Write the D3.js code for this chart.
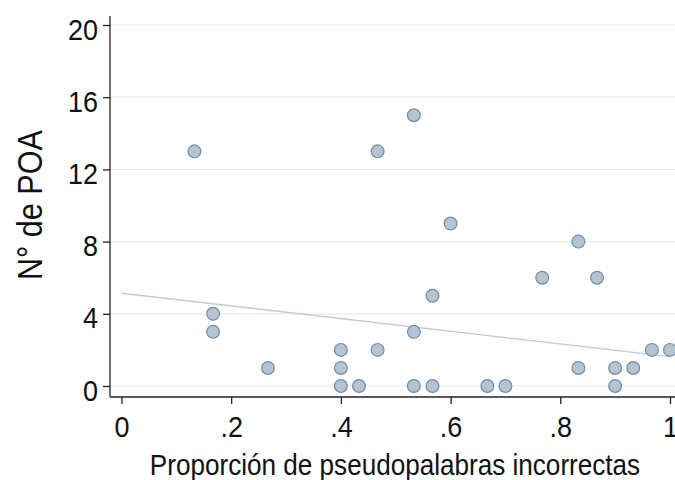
<!DOCTYPE html>
<html>
<head>
<meta charset="utf-8">
<script src="https://cdn.jsdelivr.net/npm/d3@7"></script>
<style>
  html, body { margin: 0; padding: 0; background: #fff; }
  svg { display: block; }
  text { font-family: "Liberation Sans", Arial, sans-serif; fill: #111; }
</style>
</head>
<body>
<svg id="chart" width="675" height="480"></svg>
<script>
// Proporción de pseudopalabras incorrectas (x) vs. número de POA (y)
const propIncorrect = [0.133, 0.167, 0.167, 0.267, 0.4, 0.4, 0.4, 0.433, 0.467, 0.467,
                       0.533, 0.533, 0.533, 0.567, 0.567, 0.6, 0.667, 0.7, 0.767, 0.833,
                       0.833, 0.867, 0.9, 0.9, 0.933, 0.967, 1.0];
const numPOA        = [13, 4, 3, 1, 2, 1, 0, 0, 13, 2,
                       15, 3, 0, 5, 0, 9, 0, 0, 6, 8,
                       1, 6, 1, 0, 1, 2, 2];

// Linear fit endpoints
const fitX = [0, 1];
const fitY = [5.14, 1.63];

// Axis ticks
const yTicks = [0, 4, 8, 12, 16, 20];
const xTicks = [0, 0.2, 0.4, 0.6, 0.8, 1];
const xTickLabels = ["0", ".2", ".4", ".6", ".8", "1"];

const xTitle = "Proporción de pseudopalabras incorrectas";
const yTitle = "N° de POA";

// Layout
const plotLeft = 110, plotRight = 675, plotTop = 16, plotBottom = 397;
const narrow = 0.9;   // horizontal condensing of label text

const svg = d3.select("#chart");

const x = d3.scaleLinear().domain([0, 1]).range([121.5, 670]);
const y = d3.scaleLinear().domain([0, 20]).range([386, 25]);

// Horizontal grid lines
svg.append("g")
  .selectAll("line")
  .data(yTicks)
  .join("line")
  .attr("x1", plotLeft).attr("x2", plotRight)
  .attr("y1", d => y(d)).attr("y2", d => y(d))
  .attr("stroke", "#e4eded")
  .attr("stroke-width", 1.2);

// Fitted line (under the markers)
const fitData = fitX.map((v, i) => [v, fitY[i]]);
svg.append("path")
  .datum(fitData)
  .attr("d", d3.line().x(d => x(d[0])).y(d => y(d[1])))
  .attr("fill", "none")
  .attr("stroke", "#bccbdb")
  .attr("stroke-width", 1.4);

// Scatter markers
svg.append("g")
  .selectAll("circle")
  .data(propIncorrect.map((v, i) => [v, numPOA[i]]))
  .join("circle")
  .attr("cx", d => x(d[0]))
  .attr("cy", d => y(d[1]))
  .attr("r", 6.4)
  .attr("fill", "#b6c4d1")
  .attr("stroke", "#6f8cab")
  .attr("stroke-width", 1.2);

// Y axis
const gy = svg.append("g")
  .attr("transform", `translate(${plotLeft},0)`)
  .call(d3.axisLeft(y).tickValues(yTicks).tickSize(7).tickPadding(0).tickFormat(d3.format("d")));
gy.select(".domain").remove();
gy.selectAll(".tick line").attr("stroke", "#222").attr("stroke-width", 1.3);
gy.selectAll(".tick text")
  .attr("font-size", 30)
  .attr("font-family", "Liberation Sans, Arial, sans-serif")
  .attr("text-anchor", "end")
  .attr("x", -12 / narrow)
  .attr("dy", 14)
  .attr("transform", `scale(${narrow},1)`);

// X axis
const gx = svg.append("g")
  .attr("transform", `translate(0,${plotBottom})`)
  .call(d3.axisBottom(x).tickValues(xTicks).tickSize(7).tickPadding(0)
    .tickFormat((d, i) => xTickLabels[i]));
gx.select(".domain").remove();
gx.selectAll(".tick line").attr("stroke", "#222").attr("stroke-width", 1.3);
gx.selectAll(".tick text")
  .attr("font-size", 30)
  .attr("font-family", "Liberation Sans, Arial, sans-serif")
  .attr("y", 40)
  .attr("dy", 0)
  .attr("transform", `scale(${narrow},1)`);

// Axis lines
svg.append("line")
  .attr("x1", plotLeft).attr("x2", plotLeft)
  .attr("y1", plotTop).attr("y2", plotBottom)
  .attr("stroke", "#222").attr("stroke-width", 1.3);
svg.append("line")
  .attr("x1", plotLeft).attr("x2", plotRight)
  .attr("y1", plotBottom).attr("y2", plotBottom)
  .attr("stroke", "#222").attr("stroke-width", 1.3);

// Axis titles
svg.append("text")
  .attr("transform", `translate(395,475) scale(0.87,1)`)
  .attr("text-anchor", "middle")
  .attr("font-size", 30)
  .text(xTitle);

svg.append("text")
  .attr("transform", `translate(42,205) rotate(-90) scale(0.85,1)`)
  .attr("text-anchor", "middle")
  .attr("font-size", 36)
  .text(yTitle);
</script>
</body>
</html>
